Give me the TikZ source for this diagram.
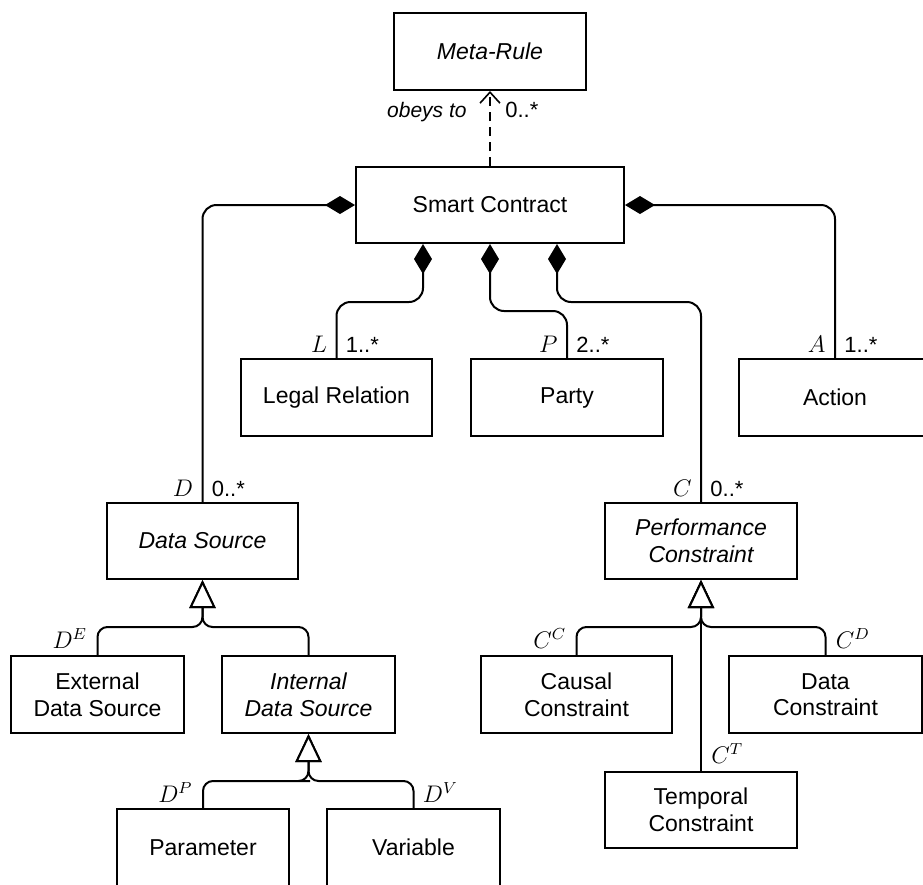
\documentclass[tikz,border=0pt]{standalone}
\usepackage{fontspec}
\setmainfont{Liberation Sans}
\usetikzlibrary{arrows.meta}

\tikzset{
    umlclass/.style={draw, line width=1pt, minimum height=38.5pt, inner sep=2pt, align=center,
        font=\fontsize{11.5}{13.3}\selectfont},
    abstractclass/.style={umlclass, font=\fontsize{11.5}{13.3}\selectfont\itshape},
    composition/.style={line width=1pt, rounded corners=7pt, -{Diamond[length=15pt, width=9pt]}},
    generalization/.style={line width=1pt, rounded corners=5pt,
        -{Triangle[length=14pt, width=13pt, fill=white]}},
    dependency/.style={line width=0.8pt, dash pattern=on 4.5pt off 3pt,
        -{Straight Barb[length=5.5pt, width=10pt]}},
    role/.style={inner sep=0pt, font=\fontsize{12}{14}\selectfont},
    multiplicity/.style={inner sep=0pt, font=\fontsize{11}{13}\selectfont},
}

\begin{document}
\begin{tikzpicture}[x=0.5pt, y=-0.5pt]
    \useasboundingbox (0,0) rectangle (923,885);
    \clip (0,0) rectangle (923,885);

    \node[abstractclass, minimum width=96pt] (MetaRule) at (490,51.5) {Meta-Rule};
    \node[umlclass, minimum width=134pt, minimum height=38pt] (SmartContract) at (490,205) {Smart Contract};

    \node[umlclass, minimum width=95.5pt] (LegalRelation) at (336.5,397.5) {Legal Relation};
    \node[umlclass, minimum width=96pt] (Party) at (567,397.5) {Party};
    \node[umlclass, minimum width=96pt] (Action) at (835,397.5) {Action};

    \node[abstractclass, minimum width=95.5pt, minimum height=38pt] (DataSource) at (202.5,541) {Data Source};
    \node[umlclass, minimum width=86.5pt] (ExternalDataSource) at (97.5,694.5) {External\\Data Source};
    \node[abstractclass, minimum width=86.5pt] (InternalDataSource) at (308.5,694.5) {Internal\\Data Source};
    \node[umlclass, minimum width=86pt] (Parameter) at (203,847.5) {Parameter};
    \node[umlclass, minimum width=86.5pt] (Variable) at (413.5,847.5) {Variable};

    \node[abstractclass, minimum width=96pt, minimum height=38pt] (PerformanceConstraint) at (701,541) {Performance\\Constraint};
    \node[umlclass, minimum width=95.5pt] (CausalConstraint) at (576.5,694.5) {Causal\\Constraint};
    \node[umlclass, minimum width=96.5pt] (DataConstraint) at (825.5,694.5) {Data\\Constraint};
    \node[umlclass, minimum width=96pt, minimum height=38pt] (TemporalConstraint) at (701,810) {Temporal\\Constraint};

    \draw[dependency] (SmartContract.north) -- (MetaRule.south);
    \node[multiplicity, anchor=base east, font=\fontsize{10.5}{12}\selectfont\itshape] (obeysTo)
        at ([xshift=-11.5pt, yshift=-13.3pt]MetaRule.south) {obeys to};
    \node[multiplicity, anchor=base west] (multMetaRule) at ([xshift=7.5pt, yshift=-13.3pt]MetaRule.south) {0..*};

    \draw[composition] (DataSource.north) |- (SmartContract.west);
    \draw[composition] (Action.north) |- (SmartContract.east);
    \draw[composition] (LegalRelation.north) |- (380,302) -| ([xshift=-33.5pt]SmartContract.south);
    \draw[composition] (Party.north) |- (530,311) -| (SmartContract.south);
    \draw[composition] (PerformanceConstraint.north) |- (620,302) -| ([xshift=33.5pt]SmartContract.south);

    \node[role, anchor=base east] (roleL) at ([xshift=-4.5pt, yshift=3pt]LegalRelation.north) {$L$};
    \node[multiplicity, anchor=base west] (multL) at ([xshift=4.5pt, yshift=3pt]LegalRelation.north) {1..*};
    \node[role, anchor=base east] (roleP) at ([xshift=-4.5pt, yshift=3pt]Party.north) {$P$};
    \node[multiplicity, anchor=base west] (multP) at ([xshift=4.5pt, yshift=3pt]Party.north) {2..*};
    \node[role, anchor=base east] (roleA) at ([xshift=-4.5pt, yshift=3pt]Action.north) {$A$};
    \node[multiplicity, anchor=base west] (multA) at ([xshift=4.5pt, yshift=3pt]Action.north) {1..*};
    \node[role, anchor=base east] (roleD) at ([xshift=-4.5pt, yshift=3pt]DataSource.north) {$D$};
    \node[multiplicity, anchor=base west] (multD) at ([xshift=4.5pt, yshift=3pt]DataSource.north) {0..*};
    \node[role, anchor=base east] (roleC) at ([xshift=-4.5pt, yshift=3pt]PerformanceConstraint.north) {$C$};
    \node[multiplicity, anchor=base west] (multC) at ([xshift=4.5pt, yshift=3pt]PerformanceConstraint.north) {0..*};

    \draw[generalization] (ExternalDataSource.north) |- (150,627) -| (DataSource.south);
    \draw[generalization] (InternalDataSource.north) |- (250,627) -| (DataSource.south);
    \draw[generalization] (Parameter.north) |- (300,781) -| (InternalDataSource.south);
    \draw[generalization] (Variable.north) |- (360,781) -| (InternalDataSource.south);
    \draw[generalization] (CausalConstraint.north) |- (640,627) -| (PerformanceConstraint.south);
    \draw[generalization] (DataConstraint.north) |- (760,627) -| (PerformanceConstraint.south);
    \draw[generalization] (TemporalConstraint.north) -- (PerformanceConstraint.south);

    \node[role, anchor=base east] (roleDE) at ([xshift=-5pt, yshift=3.5pt]ExternalDataSource.north) {$D^E$};
    \node[role, anchor=base east] (roleDP) at ([xshift=-5pt, yshift=3pt]Parameter.north) {$D^P$};
    \node[role, anchor=base west] (roleDV) at ([xshift=4.5pt, yshift=3pt]Variable.north) {$D^V$};
    \node[role, anchor=base east] (roleCC) at ([xshift=-5pt, yshift=3.5pt]CausalConstraint.north) {$C^C$};
    \node[role, anchor=base west] (roleCD) at ([xshift=5pt, yshift=3.5pt]DataConstraint.north) {$C^D$};
    \node[role, anchor=base west] (roleCT) at ([xshift=5pt, yshift=4pt]TemporalConstraint.north) {$C^T$};
\end{tikzpicture}
\end{document}
